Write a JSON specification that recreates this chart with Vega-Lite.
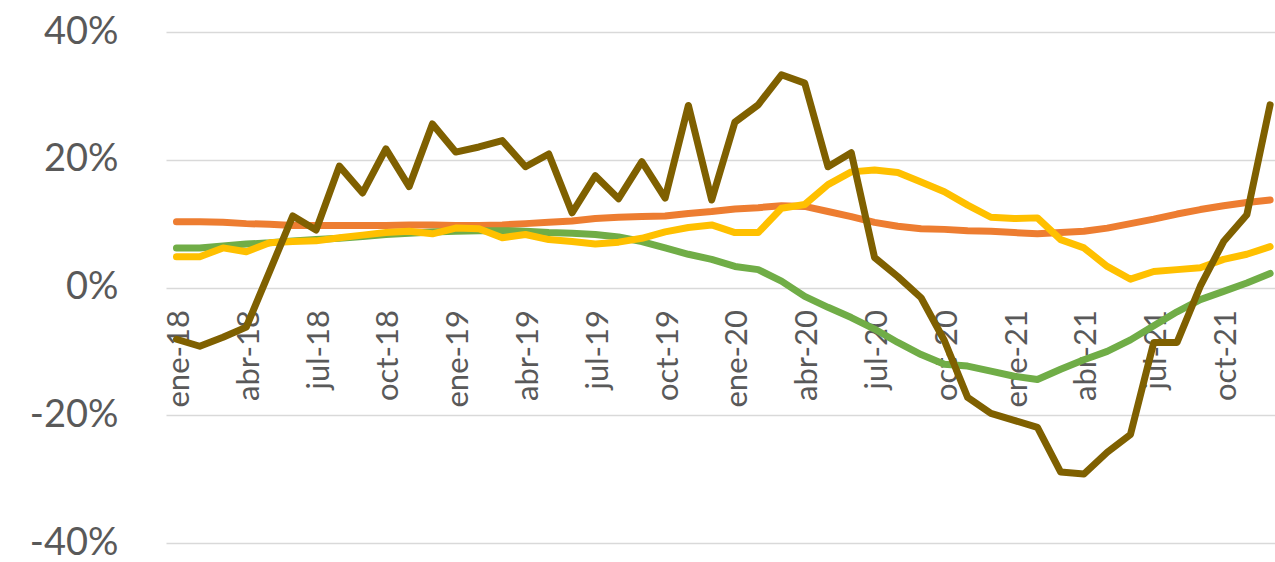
{
"$schema": "https://vega.github.io/schema/vega-lite/v6.json",
"width": 1109,
"height": 511,
"autosize": {"type": "none"},
"padding": {"left": 166, "top": 32, "right": 0, "bottom": 19},
"background": "white",
"config": {"view": {"stroke": null}},
"data": {"values": [
{"t":0,"mes":"ene-18","serie":"A","v":10.3},{"t":1,"mes":"feb-18","serie":"A","v":10.3},{"t":2,"mes":"mar-18","serie":"A","v":10.2},{"t":3,"mes":"abr-18","serie":"A","v":10.0},{"t":4,"mes":"may-18","serie":"A","v":9.9},{"t":5,"mes":"jun-18","serie":"A","v":9.7},{"t":6,"mes":"jul-18","serie":"A","v":9.7},{"t":7,"mes":"ago-18","serie":"A","v":9.7},{"t":8,"mes":"sep-18","serie":"A","v":9.7},{"t":9,"mes":"oct-18","serie":"A","v":9.7},{"t":10,"mes":"nov-18","serie":"A","v":9.8},{"t":11,"mes":"dic-18","serie":"A","v":9.8},
{"t":12,"mes":"ene-19","serie":"A","v":9.7},{"t":13,"mes":"feb-19","serie":"A","v":9.7},{"t":14,"mes":"mar-19","serie":"A","v":9.8},{"t":15,"mes":"abr-19","serie":"A","v":10.0},{"t":16,"mes":"may-19","serie":"A","v":10.2},{"t":17,"mes":"jun-19","serie":"A","v":10.4},{"t":18,"mes":"jul-19","serie":"A","v":10.8},{"t":19,"mes":"ago-19","serie":"A","v":11.0},{"t":20,"mes":"sep-19","serie":"A","v":11.1},{"t":21,"mes":"oct-19","serie":"A","v":11.2},{"t":22,"mes":"nov-19","serie":"A","v":11.6},{"t":23,"mes":"dic-19","serie":"A","v":11.9},
{"t":24,"mes":"ene-20","serie":"A","v":12.3},{"t":25,"mes":"feb-20","serie":"A","v":12.5},{"t":26,"mes":"mar-20","serie":"A","v":12.8},{"t":27,"mes":"abr-20","serie":"A","v":12.7},{"t":28,"mes":"may-20","serie":"A","v":11.9},{"t":29,"mes":"jun-20","serie":"A","v":11.1},{"t":30,"mes":"jul-20","serie":"A","v":10.2},{"t":31,"mes":"ago-20","serie":"A","v":9.6},{"t":32,"mes":"sep-20","serie":"A","v":9.2},{"t":33,"mes":"oct-20","serie":"A","v":9.1},{"t":34,"mes":"nov-20","serie":"A","v":8.9},{"t":35,"mes":"dic-20","serie":"A","v":8.8},
{"t":36,"mes":"ene-21","serie":"A","v":8.6},{"t":37,"mes":"feb-21","serie":"A","v":8.4},{"t":38,"mes":"mar-21","serie":"A","v":8.6},{"t":39,"mes":"abr-21","serie":"A","v":8.8},{"t":40,"mes":"may-21","serie":"A","v":9.3},{"t":41,"mes":"jun-21","serie":"A","v":10.0},{"t":42,"mes":"jul-21","serie":"A","v":10.7},{"t":43,"mes":"ago-21","serie":"A","v":11.5},{"t":44,"mes":"sep-21","serie":"A","v":12.2},{"t":45,"mes":"oct-21","serie":"A","v":12.8},{"t":46,"mes":"nov-21","serie":"A","v":13.3},{"t":47,"mes":"dic-21","serie":"A","v":13.7},

{"t":0,"mes":"ene-18","serie":"B","v":6.2},{"t":1,"mes":"feb-18","serie":"B","v":6.2},{"t":2,"mes":"mar-18","serie":"B","v":6.5},{"t":3,"mes":"abr-18","serie":"B","v":6.8},{"t":4,"mes":"may-18","serie":"B","v":7.0},{"t":5,"mes":"jun-18","serie":"B","v":7.3},{"t":6,"mes":"jul-18","serie":"B","v":7.5},{"t":7,"mes":"ago-18","serie":"B","v":7.7},{"t":8,"mes":"sep-18","serie":"B","v":8.0},{"t":9,"mes":"oct-18","serie":"B","v":8.3},{"t":10,"mes":"nov-18","serie":"B","v":8.5},{"t":11,"mes":"dic-18","serie":"B","v":8.7},
{"t":12,"mes":"ene-19","serie":"B","v":8.8},{"t":13,"mes":"feb-19","serie":"B","v":8.9},{"t":14,"mes":"mar-19","serie":"B","v":8.9},{"t":15,"mes":"abr-19","serie":"B","v":8.8},{"t":16,"mes":"may-19","serie":"B","v":8.6},{"t":17,"mes":"jun-19","serie":"B","v":8.5},{"t":18,"mes":"jul-19","serie":"B","v":8.3},{"t":19,"mes":"ago-19","serie":"B","v":7.9},{"t":20,"mes":"sep-19","serie":"B","v":7.2},{"t":21,"mes":"oct-19","serie":"B","v":6.2},{"t":22,"mes":"nov-19","serie":"B","v":5.2},{"t":23,"mes":"dic-19","serie":"B","v":4.4},
{"t":24,"mes":"ene-20","serie":"B","v":3.3},{"t":25,"mes":"feb-20","serie":"B","v":2.8},{"t":26,"mes":"mar-20","serie":"B","v":1.0},{"t":27,"mes":"abr-20","serie":"B","v":-1.4},{"t":28,"mes":"may-20","serie":"B","v":-3.1},{"t":29,"mes":"jun-20","serie":"B","v":-4.7},{"t":30,"mes":"jul-20","serie":"B","v":-6.5},{"t":31,"mes":"ago-20","serie":"B","v":-8.6},{"t":32,"mes":"sep-20","serie":"B","v":-10.5},{"t":33,"mes":"oct-20","serie":"B","v":-12.0},{"t":34,"mes":"nov-20","serie":"B","v":-12.3},{"t":35,"mes":"dic-20","serie":"B","v":-13.1},
{"t":36,"mes":"ene-21","serie":"B","v":-13.9},{"t":37,"mes":"feb-21","serie":"B","v":-14.4},{"t":38,"mes":"mar-21","serie":"B","v":-12.8},{"t":39,"mes":"abr-21","serie":"B","v":-11.3},{"t":40,"mes":"may-21","serie":"B","v":-10.0},{"t":41,"mes":"jun-21","serie":"B","v":-8.2},{"t":42,"mes":"jul-21","serie":"B","v":-6.0},{"t":43,"mes":"ago-21","serie":"B","v":-3.8},{"t":44,"mes":"sep-21","serie":"B","v":-1.9},{"t":45,"mes":"oct-21","serie":"B","v":-0.6},{"t":46,"mes":"nov-21","serie":"B","v":0.7},{"t":47,"mes":"dic-21","serie":"B","v":2.2},

{"t":0,"mes":"ene-18","serie":"C","v":4.8},{"t":1,"mes":"feb-18","serie":"C","v":4.8},{"t":2,"mes":"mar-18","serie":"C","v":6.2},{"t":3,"mes":"abr-18","serie":"C","v":5.6},{"t":4,"mes":"may-18","serie":"C","v":7.0},{"t":5,"mes":"jun-18","serie":"C","v":7.2},{"t":6,"mes":"jul-18","serie":"C","v":7.3},{"t":7,"mes":"ago-18","serie":"C","v":7.8},{"t":8,"mes":"sep-18","serie":"C","v":8.2},{"t":9,"mes":"oct-18","serie":"C","v":8.6},{"t":10,"mes":"nov-18","serie":"C","v":8.8},{"t":11,"mes":"dic-18","serie":"C","v":8.4},
{"t":12,"mes":"ene-19","serie":"C","v":9.3},{"t":13,"mes":"feb-19","serie":"C","v":9.2},{"t":14,"mes":"mar-19","serie":"C","v":7.8},{"t":15,"mes":"abr-19","serie":"C","v":8.3},{"t":16,"mes":"may-19","serie":"C","v":7.5},{"t":17,"mes":"jun-19","serie":"C","v":7.2},{"t":18,"mes":"jul-19","serie":"C","v":6.8},{"t":19,"mes":"ago-19","serie":"C","v":7.1},{"t":20,"mes":"sep-19","serie":"C","v":7.7},{"t":21,"mes":"oct-19","serie":"C","v":8.7},{"t":22,"mes":"nov-19","serie":"C","v":9.4},{"t":23,"mes":"dic-19","serie":"C","v":9.8},
{"t":24,"mes":"ene-20","serie":"C","v":8.6},{"t":25,"mes":"feb-20","serie":"C","v":8.6},{"t":26,"mes":"mar-20","serie":"C","v":12.4},{"t":27,"mes":"abr-20","serie":"C","v":13.0},{"t":28,"mes":"may-20","serie":"C","v":16.1},{"t":29,"mes":"jun-20","serie":"C","v":18.1},{"t":30,"mes":"jul-20","serie":"C","v":18.4},{"t":31,"mes":"ago-20","serie":"C","v":18.0},{"t":32,"mes":"sep-20","serie":"C","v":16.5},{"t":33,"mes":"oct-20","serie":"C","v":15.0},{"t":34,"mes":"nov-20","serie":"C","v":12.9},{"t":35,"mes":"dic-20","serie":"C","v":11.0},
{"t":36,"mes":"ene-21","serie":"C","v":10.8},{"t":37,"mes":"feb-21","serie":"C","v":10.9},{"t":38,"mes":"mar-21","serie":"C","v":7.5},{"t":39,"mes":"abr-21","serie":"C","v":6.2},{"t":40,"mes":"may-21","serie":"C","v":3.3},{"t":41,"mes":"jun-21","serie":"C","v":1.3},{"t":42,"mes":"jul-21","serie":"C","v":2.5},{"t":43,"mes":"ago-21","serie":"C","v":2.8},{"t":44,"mes":"sep-21","serie":"C","v":3.1},{"t":45,"mes":"oct-21","serie":"C","v":4.4},{"t":46,"mes":"nov-21","serie":"C","v":5.2},{"t":47,"mes":"dic-21","serie":"C","v":6.4},

{"t":0,"mes":"ene-18","serie":"D","v":-8.1},{"t":1,"mes":"feb-18","serie":"D","v":-9.2},{"t":2,"mes":"mar-18","serie":"D","v":-7.8},{"t":3,"mes":"abr-18","serie":"D","v":-6.2},{"t":4,"mes":"may-18","serie":"D","v":2.5},{"t":5,"mes":"jun-18","serie":"D","v":11.2},{"t":6,"mes":"jul-18","serie":"D","v":9.0},{"t":7,"mes":"ago-18","serie":"D","v":19.0},{"t":8,"mes":"sep-18","serie":"D","v":14.8},{"t":9,"mes":"oct-18","serie":"D","v":21.7},{"t":10,"mes":"nov-18","serie":"D","v":15.8},{"t":11,"mes":"dic-18","serie":"D","v":25.6},
{"t":12,"mes":"ene-19","serie":"D","v":21.2},{"t":13,"mes":"feb-19","serie":"D","v":22.0},{"t":14,"mes":"mar-19","serie":"D","v":23.0},{"t":15,"mes":"abr-19","serie":"D","v":18.9},{"t":16,"mes":"may-19","serie":"D","v":20.9},{"t":17,"mes":"jun-19","serie":"D","v":11.7},{"t":18,"mes":"jul-19","serie":"D","v":17.5},{"t":19,"mes":"ago-19","serie":"D","v":13.9},{"t":20,"mes":"sep-19","serie":"D","v":19.7},{"t":21,"mes":"oct-19","serie":"D","v":14.0},{"t":22,"mes":"nov-19","serie":"D","v":28.5},{"t":23,"mes":"dic-19","serie":"D","v":13.7},
{"t":24,"mes":"ene-20","serie":"D","v":25.9},{"t":25,"mes":"feb-20","serie":"D","v":28.6},{"t":26,"mes":"mar-20","serie":"D","v":33.3},{"t":27,"mes":"abr-20","serie":"D","v":32.0},{"t":28,"mes":"may-20","serie":"D","v":18.9},{"t":29,"mes":"jun-20","serie":"D","v":21.1},{"t":30,"mes":"jul-20","serie":"D","v":4.7},{"t":31,"mes":"ago-20","serie":"D","v":1.7},{"t":32,"mes":"sep-20","serie":"D","v":-1.6},{"t":33,"mes":"oct-20","serie":"D","v":-8.3},{"t":34,"mes":"nov-20","serie":"D","v":-17.2},{"t":35,"mes":"dic-20","serie":"D","v":-19.7},
{"t":36,"mes":"ene-21","serie":"D","v":-20.8},{"t":37,"mes":"feb-21","serie":"D","v":-21.9},{"t":38,"mes":"mar-21","serie":"D","v":-28.9},{"t":39,"mes":"abr-21","serie":"D","v":-29.2},{"t":40,"mes":"may-21","serie":"D","v":-25.8},{"t":41,"mes":"jun-21","serie":"D","v":-23.0},{"t":42,"mes":"jul-21","serie":"D","v":-8.6},{"t":43,"mes":"ago-21","serie":"D","v":-8.6},{"t":44,"mes":"sep-21","serie":"D","v":0.2},{"t":45,"mes":"oct-21","serie":"D","v":7.2},{"t":46,"mes":"nov-21","serie":"D","v":11.4},{"t":47,"mes":"dic-21","serie":"D","v":28.6}
]},
"mark": {"type": "line", "strokeJoin": "round", "strokeCap": "round"},
"encoding": {
  "x": {"field": "t", "type": "quantitative",
    "scale": {"domain": [-0.45, 47.21], "nice": false, "zero": false},
    "axis": {"values": [0,3,6,9,12,15,18,21,24,27,30,33,36,39,42,45],
      "labelExpr": "['ene-18','abr-18','jul-18','oct-18','ene-19','abr-19','jul-19','oct-19','ene-20','abr-20','jul-20','oct-20','ene-21','abr-21','jul-21','oct-21'][round(datum.value/3)]",
      "orient": "bottom", "offset": -255.5, "domain": false, "ticks": false, "grid": false,
      "labelAngle": -90, "labelPadding": 22, "labelFontSize": 31, "labelFont": "Lato",
      "labelColor": "#595959", "labelFlush": false, "labelOverlap": false, "labelOffset": 3, "title": null}},
  "y": {"field": "v", "type": "quantitative",
    "scale": {"domain": [-40, 40], "nice": false},
    "axis": {"values": [-40,-20,0,20,40], "labelExpr": "datum.value + '%'",
      "domain": false, "ticks": false, "grid": true, "gridColor": "#d9d9d9", "gridWidth": 1.5,
      "labelPadding": 48, "labelFontSize": 38, "labelFont": "Lato", "labelColor": "#595959",
      "labelBaseline": "middle", "labelDy": -4, "labelFlush": false, "title": null}},
  "color": {"field": "serie", "type": "nominal",
    "scale": {"domain": ["A","B","C","D"], "range": ["#ED7D31","#70AD47","#FFC000","#7F6000"]}, "legend": null},
  "strokeWidth": {"field": "serie", "type": "ordinal",
    "scale": {"domain": ["A","B","C","D"], "range": [7,7,7.5,8]}, "legend": null}
}
}
